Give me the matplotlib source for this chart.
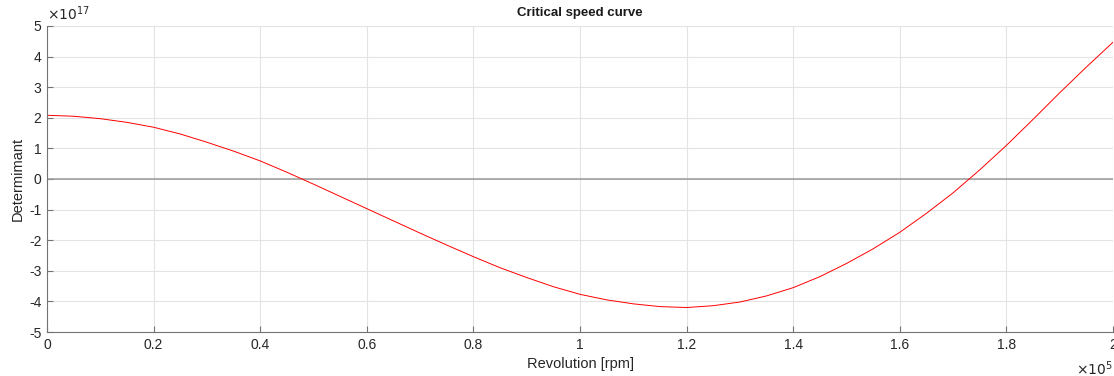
import matplotlib.pyplot as plt
from matplotlib.ticker import FormatStrFormatter, MultipleLocator

plt.rcParams['font.family'] = ['Liberation Sans', 'DejaVu Sans']
plt.rcParams['axes.unicode_minus'] = False

# revolution in units of 1e5 rpm, determinant in units of 1e17
revolution = [0.00, 0.05, 0.10, 0.15, 0.20, 0.25, 0.30, 0.35, 0.40, 0.45,
              0.50, 0.55, 0.60, 0.65, 0.70, 0.75, 0.80, 0.85, 0.90, 0.95,
              1.00, 1.05, 1.10, 1.15, 1.20, 1.25, 1.30, 1.35, 1.40, 1.45,
              1.50, 1.55, 1.60, 1.65, 1.70, 1.75, 1.80, 1.85, 1.90, 1.95, 2.00]
determinant = [2.08, 2.05, 1.97, 1.85, 1.69, 1.47, 1.20, 0.91, 0.59, 0.22,
               -0.17, -0.57, -0.97, -1.37, -1.77, -2.16, -2.54, -2.90, -3.22, -3.52,
               -3.77, -3.95, -4.08, -4.17, -4.20, -4.14, -4.02, -3.82, -3.55, -3.19,
               -2.76, -2.28, -1.74, -1.12, -0.45, 0.30, 1.10, 1.95, 2.82, 3.66, 4.47]

fig = plt.figure(figsize=(11.14, 3.76), dpi=100)
ax = fig.add_axes([0.0422, 0.117, 0.957, 0.814])

ax.axhline(0, color='0.6', linewidth=1.1, zorder=1)
ax.plot(revolution, determinant, color='red', linewidth=0.7, zorder=2)

ax.set_xlim(0, 2)
ax.set_ylim(-5, 5)
ax.xaxis.set_major_locator(MultipleLocator(0.2))
ax.yaxis.set_major_locator(MultipleLocator(1))
ax.xaxis.set_major_formatter(FormatStrFormatter('%g'))
ax.yaxis.set_major_formatter(FormatStrFormatter('%g'))

ax.grid(True, color='#e3e3e3', linewidth=0.8)
ax.set_axisbelow(True)
ax.tick_params(direction='in', length=4, width=0.8, colors='0.45',
               labelcolor='#262626', labelsize=10, pad=4)
for side in ['top', 'right']:
    ax.spines[side].set_visible(False)
for side in ['left', 'bottom']:
    ax.spines[side].set_color('0.45')
    ax.spines[side].set_linewidth(0.8)

ax.set_title('Critical speed curve', fontsize=9.5, fontweight='bold', color='#1a1a1a', pad=7)
ax.set_xlabel('Revolution [rpm]', fontsize=10.5, color='#262626', labelpad=4)
ax.set_ylabel('Determimant', fontsize=10.5, color='#262626', labelpad=3)

ax.text(0.0, 1.01, r'$\times 10^{17}$', transform=ax.transAxes, fontsize=10,
        color='#262626', ha='left', va='bottom')
ax.text(1.0, -0.09, r'$\times 10^{5}$', transform=ax.transAxes, fontsize=10,
        color='#262626', ha='right', va='top')

fig.savefig('out.png', dpi=100)
